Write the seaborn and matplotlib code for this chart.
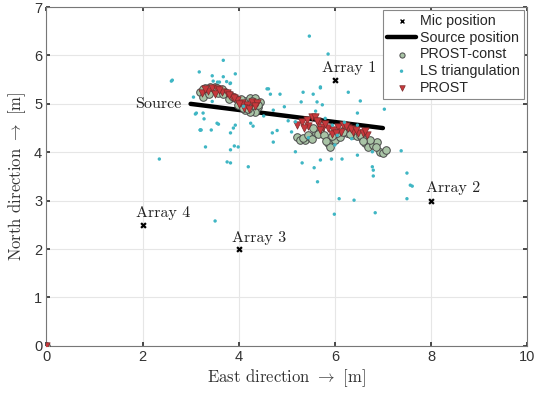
import matplotlib
matplotlib.use("Agg")
import matplotlib.pyplot as plt
import seaborn as sns
import pandas as pd

# ---------------- data ----------------
mic_x = [6, 8, 4, 2]
mic_y = [5.5, 3, 2, 2.5]
mic_names = ["Array 1", "Array 2", "Array 3", "Array 4"]

source_x = [3, 7]
source_y = [5.0, 4.5]

ls_x = [3.68, 3.18, 3.45, 3.68, 3.93, 3.56, 3.83, 3.06, 3.10, 3.26, 3.55, 3.58,
        3.22, 3.43, 3.89, 3.83, 3.93, 3.31, 3.83, 3.91, 3.99, 3.76, 3.83, 4.20,
        3.51, 4.30, 4.62, 4.66, 4.86, 4.72, 4.95, 4.70, 4.72, 5.03, 5.18, 5.30,
        5.34, 5.55, 5.63, 5.74, 5.70, 5.18, 5.32, 5.57, 5.70, 5.64, 5.93, 6.15,
        5.95, 6.28, 6.53, 6.47, 6.47, 6.47, 6.78, 6.78, 6.80, 6.80, 7.03, 7.38,
        7.50, 7.57, 7.61, 7.50, 6.84, 6.40, 6.09, 5.99, 5.47, 5.86, 2.60, 3.47,
        3.60, 3.75, 3.82, 4.59, 5.70, 2.62, 3.12, 3.20, 3.28, 3.20, 2.35, 3.45,
        4.10, 4.52, 5.10, 5.45, 5.80, 6.05, 6.20, 6.35, 4.25, 4.80, 5.60, 6.00]
ls_y = [5.90, 5.66, 5.58, 5.56, 5.62, 5.45, 5.43, 5.14, 4.79, 4.81, 4.60, 4.58,
        4.46, 4.46, 4.50, 4.40, 4.56, 4.11, 4.05, 4.13, 4.11, 3.80, 3.78, 3.70,
        2.58, 4.54, 5.31, 5.20, 5.20, 4.87, 4.94, 4.40, 4.21, 4.65, 4.63, 5.04,
        5.24, 5.20, 5.04, 4.98, 5.35, 4.01, 3.78, 3.68, 3.84, 3.39, 3.86, 3.86,
        4.56, 5.24, 5.06, 4.81, 4.56, 3.94, 4.01, 3.70, 3.63, 3.51, 4.89, 4.03,
        3.57, 3.32, 3.30, 3.04, 2.75, 3.01, 3.04, 2.72, 6.40, 6.03, 5.47, 5.47,
        5.45, 5.46, 5.42, 5.31, 5.33, 5.49, 4.81, 4.46, 4.69, 4.46, 3.86, 5.05,
        4.95, 4.75, 4.42, 4.30, 4.70, 4.35, 4.62, 4.28, 4.60, 4.45, 4.85, 4.15]

const_x = [3.20, 3.31, 3.41, 3.51, 3.62, 3.72, 3.83, 3.93, 4.03, 4.14, 4.24,
           4.35, 4.45, 4.41, 4.35, 4.24, 4.14, 3.26, 3.36, 3.48, 3.58, 3.68,
           3.79, 3.98, 4.08, 4.30, 4.19, 3.25, 3.38, 3.55, 3.66, 3.88, 4.05,
           4.28, 4.40, 4.20,
           5.21, 5.28, 5.38, 5.49, 5.60, 5.70, 5.86, 5.90, 6.01, 6.11, 6.26,
           6.36, 6.47, 6.57, 6.63, 6.69, 6.80, 6.88, 6.94, 7.01, 7.07, 5.55,
           5.65, 5.78, 6.05, 6.20, 6.40, 5.33, 5.44, 5.52, 5.82, 5.95, 6.16,
           6.31, 6.52, 6.74, 6.85, 6.58, 0.0]
const_y = [5.24, 5.33, 5.35, 5.35, 5.29, 5.24, 5.18, 5.12, 5.04, 5.06, 5.12,
           5.12, 5.04, 4.94, 4.83, 4.83, 4.87, 5.30, 5.30, 5.28, 5.22, 5.20,
           5.10, 4.98, 4.92, 4.98, 4.95, 5.15, 5.20, 5.32, 5.30, 5.15, 5.10,
           5.05, 4.98, 4.90,
           4.31, 4.25, 4.25, 4.31, 4.40, 4.45, 4.19, 4.11, 4.25, 4.31, 4.40,
           4.36, 4.33, 4.29, 4.19, 4.11, 4.15, 4.21, 4.01, 3.98, 4.05, 4.50,
           4.38, 4.35, 4.40, 4.45, 4.45, 4.30, 4.35, 4.28, 4.24, 4.33, 4.42,
           4.38, 4.36, 4.25, 4.10, 4.24, 0.0]

prost_x = [3.24, 3.37, 3.44, 3.54, 3.65, 3.75, 3.86, 3.96, 4.07, 4.17, 4.28,
           4.38, 4.12, 3.30, 3.50, 3.90, 4.00, 4.22, 3.60, 3.80, 4.33,
           5.21, 5.32, 5.42, 5.53, 5.59, 5.66, 5.76, 5.86, 5.97, 6.07, 6.18,
           6.28, 6.38, 6.49, 6.59, 6.67, 5.45, 5.70, 5.95, 6.12, 6.33, 5.36,
           5.62, 5.80, 6.02, 6.24, 6.45, 6.62, 0.0]
prost_y = [5.22, 5.26, 5.33, 5.30, 5.24, 5.22, 5.15, 5.08, 5.02, 4.98, 5.04,
           5.02, 4.92, 5.30, 5.20, 5.12, 5.00, 4.90, 5.28, 5.18, 4.95,
           4.56, 4.62, 4.67, 4.73, 4.73, 4.60, 4.52, 4.50, 4.46, 4.52, 4.56,
           4.50, 4.42, 4.40, 4.40, 4.36, 4.55, 4.45, 4.38, 4.42, 4.48, 4.50,
           4.64, 4.58, 4.40, 4.55, 4.46, 4.44, 0.0]

# ---------------- style ----------------
sns.set_theme(style="whitegrid")
plt.rcParams["font.family"] = ["Liberation Sans", "DejaVu Sans"]
plt.rcParams["mathtext.fontset"] = "cm"

fig = plt.figure(figsize=(5.39, 3.93), dpi=100)
ax = fig.add_axes([0.086, 0.12, 0.892, 0.862])

serif = ["cmr10", "DejaVu Serif"]

mic_df = pd.DataFrame({"x": mic_x, "y": mic_y})
src_df = pd.DataFrame({"x": source_x, "y": source_y})
ls_df = pd.DataFrame({"x": ls_x, "y": ls_y})
const_df = pd.DataFrame({"x": const_x, "y": const_y})
prost_df = pd.DataFrame({"x": prost_x, "y": prost_y})

sns.scatterplot(data=mic_df, x="x", y="y", ax=ax, marker="x", color="black",
                s=12, linewidth=1.6, label="Mic position", zorder=5)
sns.lineplot(data=src_df, x="x", y="y", ax=ax, color="black", linewidth=3.2,
             label="Source position", zorder=3)
sns.scatterplot(data=const_df, x="x", y="y", ax=ax, marker="o",
                color="#a9c4a6", edgecolor="#4a4a4a", linewidth=0.7, s=30,
                label="PROST-const", zorder=4)
sns.scatterplot(data=ls_df, x="x", y="y", ax=ax, marker="o", color="#3fb6c4",
                edgecolor="none", s=6, label="LS triangulation", zorder=6)
sns.scatterplot(data=prost_df, x="x", y="y", ax=ax, marker="v",
                color="#c8383c", edgecolor="#7a2a2a", linewidth=0.5, s=28,
                label="PROST", zorder=5)

# annotations
txt_kw = dict(ha="center", va="center", fontsize=11.5, family=serif,
              color="#222222")
ax.text(6.3, 5.75, mic_names[0], **txt_kw)
ax.text(8.46, 3.26, mic_names[1], **txt_kw)
ax.text(4.43, 2.23, mic_names[2], **txt_kw)
ax.text(2.43, 2.75, mic_names[3], **txt_kw)
ax.text(2.8, 4.99, "Source", ha="right", va="center", fontsize=11.5,
        family=serif, color="#222222")

ax.set_xlim(0, 10)
ax.set_ylim(0, 7)
ax.set_xticks([0, 2, 4, 6, 8, 10])
ax.set_yticks([0, 1, 2, 3, 4, 5, 6, 7])
ax.set_xlabel(r"East direction $\rightarrow$ [m]", family=serif, fontsize=12,
              color="#333333", labelpad=2)
ax.set_ylabel(r"North direction $\rightarrow$ [m]", family=serif, fontsize=12,
              color="#333333", labelpad=4)
ax.tick_params(axis="both", labelsize=10.5, colors="#333333", direction="in",
               length=3, pad=3, top=True, right=True, bottom=True, left=True)
ax.grid(True, color="#e6e6e6", linewidth=0.8)
for sp in ax.spines.values():
    sp.set_color("#777777")
    sp.set_linewidth(0.8)

leg = ax.legend(loc="upper right", fontsize=10.3, frameon=True, fancybox=False,
                borderaxespad=0.2, handlelength=2.0, handletextpad=0.3,
                labelspacing=0.18, borderpad=0.3)
leg.get_frame().set_edgecolor("#888888")
leg.get_frame().set_linewidth(0.8)
leg.get_frame().set_alpha(1)
legend_sizes = {"Mic position": 8, "PROST-const": 14, "LS triangulation": 6,
                "PROST": 16}
for h, t in zip(leg.legend_handles, leg.get_texts()):
    lab = t.get_text()
    if lab in legend_sizes and hasattr(h, "set_sizes"):
        h.set_sizes([legend_sizes[lab]])
        if lab == "Mic position":
            h.set_linewidth(1.0)

fig.savefig("out.png", dpi=100)
